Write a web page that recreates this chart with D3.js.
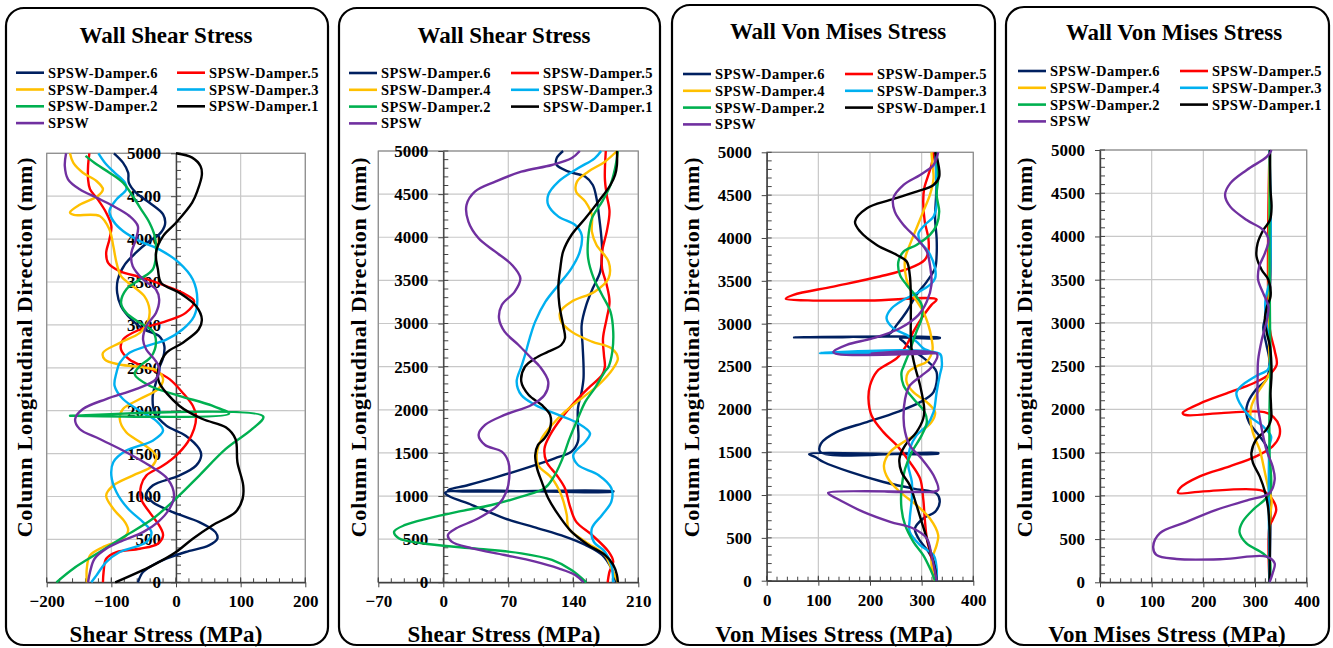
<!DOCTYPE html>
<html>
<head>
<meta charset="utf-8">
<script src="https://cdn.jsdelivr.net/npm/d3@7"></script>
<style>
  body { margin: 0; background: #fff; }
  svg { display: block; }
  text { font-family: "Liberation Serif", "Times New Roman", serif; font-weight: bold; fill: #000; }
</style>
</head>
<body>
<svg id="chart" width="1333" height="648"></svg>
<script>
// ---- series ----
const seriesNames = ["SPSW-Damper.6", "SPSW-Damper.5", "SPSW-Damper.4", "SPSW-Damper.3", "SPSW-Damper.2", "SPSW-Damper.1", "SPSW"];

// ---- axis ticks ----
const heightTicks = [0, 500, 1000, 1500, 2000, 2500, 3000, 3500, 4000, 4500, 5000];
const shearTicksA = [-200, -100, 0, 100, 200];
const shearTicksB = [-70, 0, 70, 140, 210];
const vonMisesTicks = [0, 100, 200, 300, 400];

// ---- Wall shear stress, first set: [stress MPa, height mm] ----
const shearA_d6 = [[-96,5000],[-82,4891],[-74,4774],[-73,4658],[-62,4541],[-41,4424],[-20,4288],[-17,4171],[-26,4055],[-41,3977],[-62,3841],[-79,3705],[-90,3530],[-91,3374],[-85,3218],[-69,3063],[-49,2946],[-26,2868],[-18,2752],[-20,2615],[-26,2500],[-31,2330],[-36,2174],[-33,1981],[-15,1826],[15,1709],[36,1554],[39,1477],[31,1360],[5,1244],[-36,1128],[-46,1012],[-36,934],[-5,818],[36,702],[61,585],[64,508],[51,430],[15,353],[-15,275],[-36,198],[-51,120],[-59,0]];
const shearA_d5 = [[-134,5000],[-136,4852],[-136,4697],[-133,4580],[-121,4463],[-108,4308],[-100,4152],[-103,3996],[-108,3841],[-105,3724],[-87,3627],[-51,3549],[-15,3452],[15,3355],[28,3277],[15,3140],[-15,3043],[-56,2946],[-82,2829],[-85,2713],[-72,2596],[-51,2518],[-33,2465],[-10,2368],[10,2213],[26,2058],[31,1942],[28,1787],[18,1632],[0,1477],[-20,1360],[-46,1244],[-54,1128],[-54,973],[-41,818],[-26,663],[-20,547],[-28,450],[-56,391],[-92,353],[-108,275],[-112,120],[-113,0]];
const shearA_d4 = [[-164,5000],[-159,4891],[-144,4774],[-123,4677],[-113,4580],[-121,4502],[-149,4400],[-164,4310],[-158,4282],[-118,4269],[-103,4113],[-97,3919],[-92,3724],[-85,3568],[-67,3452],[-49,3335],[-41,3179],[-44,3024],[-56,2907],[-87,2790],[-113,2674],[-110,2596],[-87,2538],[-51,2505],[-30,2470],[-20,2368],[-28,2252],[-56,2136],[-82,2019],[-87,1903],[-77,1748],[-51,1612],[-31,1477],[-36,1360],[-67,1244],[-97,1128],[-108,1012],[-97,857],[-79,702],[-74,605],[-82,508],[-113,411],[-133,314],[-138,159],[-138,0]];
const shearA_d3 = [[-120,5000],[-110,4891],[-95,4774],[-79,4658],[-77,4580],[-92,4463],[-103,4327],[-97,4211],[-82,4094],[-56,3977],[-26,3880],[5,3724],[26,3530],[33,3296],[28,3101],[10,2946],[-15,2829],[-46,2752],[-72,2674],[-87,2557],[-92,2446],[-95,2291],[-82,2136],[-56,2000],[-31,1884],[-20,1767],[-36,1651],[-77,1535],[-97,1399],[-100,1244],[-92,1050],[-74,857],[-51,702],[-38,585],[-46,469],[-87,353],[-108,236],[-123,81],[-131,0]];
const shearA_d2 = [[-140,4970],[-123,4872],[-103,4774],[-82,4658],[-67,4502],[-54,4347],[-41,4191],[-33,4035],[-31,3802],[-36,3646],[-56,3530],[-77,3413],[-85,3257],[-77,3140],[-56,3024],[-36,2927],[-31,2790],[-38,2635],[-56,2518],[-64,2426],[-41,2291],[5,2174],[56,2058],[82,1965],[-164,1940],[135,1932],[118,1787],[77,1554],[36,1244],[5,1012],[-36,740],[-77,547],[-118,353],[-159,159],[-185,0]];
const shearA_d1 = [[0,5000],[25,4950],[38,4850],[40,4750],[33,4560],[25,4425],[0,4190],[-20,4035],[-31,3840],[-28,3650],[-23,3490],[5,3375],[31,3220],[40,3063],[35,2946],[10,2790],[-15,2674],[-26,2520],[-28,2440],[-26,2330],[5,2058],[41,1903],[77,1806],[92,1670],[95,1400],[104,1128],[103,973],[92,818],[56,663],[26,508],[0,353],[-36,198],[-94,0]];
const shearA_spsw = [[-170,5000],[-172,4852],[-167,4697],[-149,4580],[-123,4483],[-97,4385],[-72,4269],[-59,4152],[-62,3996],[-69,3841],[-67,3685],[-51,3530],[-31,3413],[-26,3296],[-31,3140],[-46,2985],[-51,2829],[-46,2713],[-33,2596],[-26,2500],[-31,2368],[-62,2252],[-108,2136],[-144,2019],[-156,1903],[-149,1787],[-118,1670],[-77,1516],[-41,1360],[-13,1205],[-3,1012],[-10,857],[-28,702],[-51,585],[-82,488],[-108,391],[-126,275],[-133,120],[-136,0]];

// ---- Wall shear stress, second set ----
const shearB_d6 = [[129,5000],[122,4915],[122,4838],[135,4760],[153,4702],[161,4606],[165,4451],[168,4219],[170,4026],[171,3833],[169,3601],[161,3408],[154,3215],[149,2983],[150,2751],[151,2519],[151,2365],[149,2210],[145,2017],[145,1824],[145,1631],[138,1515],[120,1437],[88,1321],[59,1225],[27,1128],[5,1066],[183,1057],[183,1050],[2,1040],[6,1000],[31,896],[66,742],[102,626],[131,529],[153,433],[171,317],[181,162],[186,0]];
const shearB_d5 = [[175,5000],[174,4683],[176,4490],[179,4297],[176,4065],[171,3833],[171,3640],[176,3447],[179,3253],[176,3060],[172,2828],[173,2635],[174,2500],[171,2403],[156,2249],[142,2094],[127,1901],[115,1708],[109,1553],[111,1399],[122,1244],[131,1090],[136,896],[143,703],[160,549],[178,355],[183,240],[179,124],[177,0]];
const shearB_d4 = [[187,5000],[174,4876],[156,4760],[144,4645],[143,4529],[153,4413],[160,4258],[160,4065],[165,3910],[178,3717],[178,3524],[163,3369],[138,3253],[126,3137],[127,3022],[138,2906],[160,2790],[181,2713],[188,2597],[183,2481],[167,2287],[149,2133],[131,1978],[117,1824],[106,1669],[101,1515],[102,1360],[117,1206],[127,1012],[133,781],[135,626],[153,471],[174,317],[181,162],[188,0]];
const shearB_d3 = [[170,5000],[163,4915],[145,4799],[124,4645],[113,4490],[113,4374],[124,4239],[142,4142],[149,4026],[147,3833],[138,3640],[124,3447],[110,3253],[99,3022],[93,2828],[88,2635],[84,2500],[79,2326],[84,2171],[99,2056],[124,1940],[145,1843],[158,1727],[153,1631],[140,1476],[145,1360],[167,1244],[181,1090],[181,935],[171,781],[160,626],[162,471],[174,355],[181,201],[183,0]];
const shearB_d2 = [[188,5000],[185,4799],[180,4606],[171,4413],[160,4219],[156,3988],[156,3756],[162,3524],[171,3331],[180,3137],[183,2906],[182,2674],[178,2500],[174,2442],[163,2249],[153,2094],[145,1901],[136,1669],[127,1399],[118,1206],[109,1090],[84,993],[52,896],[16,819],[-16,742],[-41,665],[-53,587],[-48,510],[-23,452],[31,394],[84,336],[117,259],[138,143],[154,0]];
const shearB_d1 = [[187,5000],[187,4838],[185,4722],[180,4606],[167,4413],[153,4219],[138,4026],[129,3833],[126,3640],[124,3447],[125,3215],[129,2983],[131,2828],[127,2751],[113,2674],[99,2597],[88,2500],[84,2326],[92,2171],[106,2056],[115,1940],[115,1785],[109,1669],[102,1592],[99,1476],[101,1321],[106,1167],[113,974],[124,781],[138,587],[156,433],[174,317],[183,201],[187,85],[188,0]];
const shearB_spsw = [[147,5000],[138,4915],[117,4838],[84,4760],[56,4645],[34,4529],[25,4374],[27,4181],[38,3988],[56,3833],[74,3679],[83,3524],[77,3369],[63,3215],[60,3060],[66,2906],[81,2751],[95,2597],[104,2500],[113,2326],[109,2171],[95,2056],[66,1940],[45,1824],[38,1708],[45,1592],[63,1515],[70,1399],[71,1206],[68,1051],[59,896],[38,742],[14,626],[5,549],[9,471],[31,394],[66,317],[99,240],[124,162],[142,85],[151,0]];

// ---- Wall von Mises stress, first set ----
const vonA_d6 = [[326,5000],[328,4774],[328,4502],[326,4230],[329,3997],[329,3802],[326,3647],[310,3491],[290,3336],[271,3142],[252,2986],[235,2869],[160,2845],[53,2840],[335,2836],[335,2830],[258,2826],[265,2790],[277,2714],[300,2617],[319,2520],[329,2433],[323,2200],[297,2084],[252,1967],[194,1851],[135,1734],[105,1600],[104,1500],[332,1492],[332,1484],[82,1478],[95,1440],[110,1385],[161,1269],[226,1152],[284,1075],[329,1017],[335,920],[326,803],[303,726],[287,609],[294,493],[313,338],[326,182],[329,0]];
const vonA_d5 = [[323,5000],[319,4852],[313,4736],[305,4580],[303,4425],[306,4191],[313,3997],[313,3841],[306,3744],[277,3647],[219,3550],[129,3433],[52,3336],[37,3290],[80,3272],[200,3270],[329,3282],[319,3219],[300,3064],[284,2908],[271,2753],[252,2597],[226,2500],[213,2440],[200,2278],[197,2123],[203,1929],[226,1734],[252,1579],[277,1385],[297,1191],[303,958],[306,726],[310,493],[319,260],[326,0]];
const vonA_d4 = [[319,5000],[321,4852],[323,4697],[316,4502],[303,4308],[290,4113],[277,3919],[268,3764],[268,3608],[274,3452],[287,3297],[303,3142],[313,2986],[319,2830],[321,2694],[310,2558],[290,2500],[274,2433],[271,2316],[284,2200],[310,2084],[326,1967],[319,1851],[297,1734],[265,1618],[239,1502],[227,1346],[235,1191],[258,1036],[290,881],[316,726],[332,532],[329,415],[319,221],[326,0]];
const vonA_d3 = [[329,5000],[328,4697],[329,4386],[323,4250],[306,4152],[294,4055],[297,3958],[313,3841],[326,3647],[326,3530],[316,3452],[290,3355],[265,3278],[242,3180],[232,3064],[245,2947],[271,2869],[290,2791],[303,2714],[319,2665],[200,2660],[103,2657],[335,2648],[339,2560],[339,2500],[335,2394],[329,2200],[323,1967],[310,1812],[290,1696],[277,1540],[274,1346],[281,1152],[281,958],[277,726],[277,570],[297,415],[323,299],[329,144],[329,0]];
const vonA_d2 = [[329,5000],[332,4697],[329,4502],[334,4308],[329,4152],[316,4036],[290,3919],[265,3841],[255,3725],[258,3569],[271,3452],[287,3336],[300,3219],[300,3064],[290,2908],[281,2753],[274,2636],[265,2500],[261,2433],[265,2278],[284,2123],[306,1967],[310,1851],[300,1696],[281,1502],[268,1308],[261,1075],[261,842],[268,648],[284,454],[303,299],[316,144],[326,0]];
const vonA_d1 = [[326,5000],[329,4950],[334,4716],[323,4619],[290,4541],[239,4444],[194,4347],[171,4191],[181,4075],[213,3919],[252,3802],[271,3725],[277,3569],[279,3336],[279,3064],[279,2830],[281,2675],[287,2500],[297,2278],[305,2006],[303,1890],[290,1734],[268,1579],[257,1424],[261,1269],[277,1114],[290,881],[300,687],[310,493],[319,299],[326,144],[329,0]];
const vonA_spsw = [[332,5000],[323,4852],[297,4736],[265,4619],[245,4463],[248,4308],[265,4152],[290,3997],[310,3841],[316,3686],[319,3452],[310,3258],[294,3103],[258,2947],[206,2830],[155,2753],[129,2670],[138,2645],[330,2655],[200,2650],[330,2643],[319,2491],[300,2394],[277,2278],[268,2123],[265,1890],[268,1734],[277,1579],[300,1424],[323,1230],[332,1060],[322,1040],[225,1040],[322,1033],[119,1026],[122,1005],[142,939],[187,803],[239,687],[284,609],[310,493],[319,299],[326,105],[329,0]];

// ---- Wall von Mises stress, second set ----
const vonB_d6 = [[328,5000],[328,3300],[322,3100],[316,2950],[322,2750],[328,2550],[322,2346],[302,2230],[286,2076],[283,1960],[289,1844],[309,1689],[322,1573],[328,1400],[328,0]];
const vonB_d5 = [[328,5000],[328,2950],[338,2680],[342,2520],[330,2417],[297,2302],[245,2186],[194,2070],[160,1960],[166,1935],[240,1960],[318,1968],[336,1910],[347,1805],[347,1689],[334,1573],[302,1457],[251,1341],[193,1225],[155,1090],[151,1035],[200,1052],[315,1058],[334,955],[341,839],[334,723],[328,645],[328,0]];
const vonB_d4 = [[328,5000],[328,2600],[330,2450],[322,2346],[305,2192],[293,2037],[291,1882],[296,1728],[309,1534],[318,1302],[325,1109],[332,950],[330,800],[328,600],[328,0]];
const vonB_d3 = [[328,5000],[328,3500],[320,3250],[322,3000],[328,2800],[330,2600],[325,2462],[302,2385],[273,2269],[264,2192],[270,2076],[289,1921],[315,1805],[331,1689],[328,1573],[328,0]];
const vonB_d2 = [[329,5000],[328,4000],[329,3000],[330,2500],[328,2000],[328,1500],[330,1050],[318,950],[298,850],[276,700],[270,580],[283,452],[315,336],[328,259],[328,0]];
const vonB_d1 = [[329,5000],[330,4537],[332,4345],[329,4190],[316,4075],[305,3921],[303,3766],[313,3612],[326,3497],[330,3304],[323,3188],[319,3034],[323,2880],[329,2726],[332,2417],[330,2186],[331,2037],[331,1882],[322,1766],[302,1650],[293,1496],[296,1380],[309,1225],[320,1032],[325,877],[328,645],[328,0]];
const vonB_spsw = [[332,5000],[323,4923],[284,4769],[252,4614],[242,4480],[252,4345],[284,4190],[316,4075],[326,3959],[319,3805],[308,3651],[306,3497],[316,3342],[326,3188],[323,3034],[313,2803],[306,2571],[305,2346],[305,2076],[312,1805],[322,1534],[334,1341],[338,1187],[328,1032],[289,955],[225,839],[161,684],[116,568],[103,414],[109,317],[148,270],[238,268],[322,298],[338,220],[334,104],[328,0]];

// ---- styling and layout ----
const seriesColors = ["#002060", "#FF0000", "#FFC000", "#00B0F0", "#00B050", "#000000", "#7030A0"];

const panels = [
  { title: "Wall Shear Stress", xTitle: "Shear Stress (MPa)", ticks: shearTicksA, minorStep: 20,
    series: [shearA_d6, shearA_d5, shearA_d4, shearA_d3, shearA_d2, shearA_d1, shearA_spsw],
    box: [6, 8, 322, 637], plot: [46.7, 305.3, 153.3, 582.3], titleX: 166, titleY: 43,
    legend: [16, 177, 72.7], yTitleX: 32, xTitleX: 166 },
  { title: "Wall Shear Stress", xTitle: "Shear Stress (MPa)", ticks: shearTicksB, minorStep: 14,
    series: [shearB_d6, shearB_d5, shearB_d4, shearB_d3, shearB_d2, shearB_d1, shearB_spsw],
    box: [339, 8, 321, 637], plot: [378.3, 638.3, 151, 582.3], titleX: 504, titleY: 43,
    legend: [349, 511, 73], yTitleX: 366, xTitleX: 504 },
  { title: "Wall Von Mises Stress", xTitle: "Von Mises Stress (MPa)", ticks: vonMisesTicks, minorStep: 20,
    series: [vonA_d6, vonA_d5, vonA_d4, vonA_d3, vonA_d2, vonA_d1, vonA_spsw],
    box: [672, 5, 323, 640], plot: [766.7, 973.3, 152.3, 580.7], titleX: 838, titleY: 39,
    legend: [683, 845, 74], yTitleX: 699, xTitleX: 834 },
  { title: "Wall Von Mises Stress", xTitle: "Von Mises Stress (MPa)", ticks: vonMisesTicks, minorStep: 20,
    series: [vonB_d6, vonB_d5, vonB_d4, vonB_d3, vonB_d2, vonB_d1, vonB_spsw],
    box: [1006, 7, 323, 638], plot: [1100, 1306.7, 150, 582.3], titleX: 1174, titleY: 40,
    legend: [1018, 1180, 71], yTitleX: 1032, xTitleX: 1167 }
];

const svg = d3.select("#chart");

panels.forEach(p => {
  const g = svg.append("g");
  const [bx, by, bw, bh] = p.box;
  const [px0, px1, py0, py1] = p.plot;

  // rounded frame
  g.append("rect").attr("x", bx).attr("y", by).attr("width", bw).attr("height", bh)
    .attr("rx", 18).attr("ry", 18).attr("fill", "#fff").attr("stroke", "#000").attr("stroke-width", 2.2);

  // title
  g.append("text").attr("x", p.titleX).attr("y", p.titleY).attr("text-anchor", "middle")
    .style("font-size", "23px").text(p.title);

  // legend (two columns, row-wise)
  const [lx1, lx2, ly] = p.legend;
  seriesNames.forEach((name, i) => {
    const lx = i % 2 === 0 ? lx1 : lx2;
    const yy = ly + Math.floor(i / 2) * 16.8;
    g.append("line").attr("x1", lx).attr("x2", lx + 28).attr("y1", yy).attr("y2", yy)
      .attr("stroke", seriesColors[i]).attr("stroke-width", 2.6);
    g.append("text").attr("x", lx + 32).attr("y", yy + 5)
      .style("font-size", "14.5px").style("letter-spacing", "0.45px").text(name);
  });

  // scales
  const x = d3.scaleLinear().domain([p.ticks[0], p.ticks[p.ticks.length - 1]]).range([px0, px1]);
  const y = d3.scaleLinear().domain([0, 5000]).range([py1, py0]);
  const x0 = x(0);

  // gridlines
  const grid = g.append("g").attr("stroke", "#c8c8c8").attr("stroke-width", 1.2);
  p.ticks.forEach(t => grid.append("line").attr("x1", x(t)).attr("x2", x(t)).attr("y1", py0).attr("y2", py1));
  heightTicks.forEach(t => grid.append("line").attr("x1", px0).attr("x2", px1).attr("y1", y(t)).attr("y2", y(t)));

  // plot border
  g.append("rect").attr("x", px0).attr("y", py0).attr("width", px1 - px0).attr("height", py1 - py0)
    .attr("fill", "none").attr("stroke", "#8c8c8c").attr("stroke-width", 1.2);

  // minor ticks
  const minor = g.append("g").attr("stroke", "#444").attr("stroke-width", 1);
  for (let v = p.ticks[0]; v <= p.ticks[p.ticks.length - 1] + 1e-6; v += p.minorStep) {
    minor.append("line").attr("x1", x(v)).attr("x2", x(v)).attr("y1", py1 - 4).attr("y2", py1);
  }
  for (let h = 100; h < 5000; h += 100) {
    if (h % 500 === 0) continue;
    minor.append("line").attr("x1", x0).attr("x2", x0 + 5).attr("y1", y(h)).attr("y2", y(h));
  }
  // inner halves of major ticks
  heightTicks.forEach(t => minor.append("line").attr("x1", x0).attr("x2", x0 + 5).attr("y1", y(t)).attr("y2", y(t)));
  p.ticks.forEach(t => minor.append("line").attr("x1", x(t)).attr("x2", x(t)).attr("y1", py1 - 5).attr("y2", py1));

  // x axis
  const xAxis = g.append("g").attr("transform", `translate(0,${py1})`)
    .call(d3.axisBottom(x).tickValues(p.ticks).tickSize(5).tickSizeOuter(0).tickPadding(8).tickFormat(d3.format("d")));
  // y axis at zero stress
  const yAxis = g.append("g").attr("transform", `translate(${x0},0)`)
    .call(d3.axisLeft(y).tickValues(heightTicks).tickSize(5).tickSizeOuter(0).tickPadding(10).tickFormat(d3.format("d")));
  [xAxis, yAxis].forEach(a => {
    a.select(".domain").attr("stroke", "#404040").attr("stroke-width", 1.4);
    a.selectAll(".tick line").attr("stroke", "#444").attr("stroke-width", 1);
    a.selectAll(".tick text").style("font-size", "17px").style("font-family", "'Liberation Serif', serif")
      .style("font-weight", "bold").attr("fill", "#000");
  });

  // curves
  const line = d3.line().x(d => x(d[0])).y(d => y(d[1])).curve(d3.curveCatmullRom.alpha(0.5));
  p.series.forEach((s, i) => {
    g.append("path").attr("d", line(s)).attr("fill", "none")
      .attr("stroke", seriesColors[i]).attr("stroke-width", 2.4).attr("stroke-linejoin", "round");
  });

  // axis titles
  g.append("text").attr("transform", `translate(${p.yTitleX},347) rotate(-90)`).attr("text-anchor", "middle")
    .style("font-size", "22px").style("letter-spacing", "0.8px").text("Column Longitudinal Direction (mm)");
  g.append("text").attr("x", p.xTitleX).attr("y", 642).attr("text-anchor", "middle")
    .style("font-size", "23px").style("letter-spacing", "0.2px").text(p.xTitle);
});
</script>
</body>
</html>
